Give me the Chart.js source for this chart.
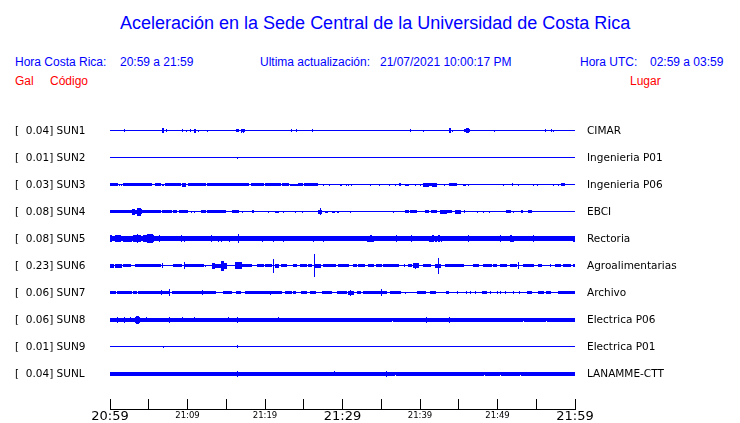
<!DOCTYPE html>
<html>
<head>
<meta charset="utf-8">
<script src="https://cdn.jsdelivr.net/npm/chart.js@4/dist/chart.umd.min.js"></script>
<style>
  html, body { margin: 0; padding: 0; background: #fff; }
  body { width: 740px; height: 423px; position: relative; overflow: hidden; font-family: "Liberation Sans", Arial, sans-serif; }
  .t { position: absolute; white-space: pre; line-height: 1; }
  .blue { color: #0000ff; }
  .red { color: #ff0000; }
  .s12 { font-size: 12px; }
  canvas { position: absolute; left: 0; }
</style>
</head>
<body>
<div class="t blue" style="left:120px; top:14px; font-size:18px;">Aceleración en la Sede Central de la Universidad de Costa Rica</div>
<div class="t blue s12" style="left:15px; top:56px;">Hora Costa Rica:</div>
<div class="t blue s12" style="left:120px; top:56px;">20:59 a 21:59</div>
<div class="t blue s12" style="left:260px; top:56px;">Ultima actualización:</div>
<div class="t blue s12" style="left:380px; top:56px;">21/07/2021 10:00:17 PM</div>
<div class="t blue s12" style="left:580px; top:56px;">Hora UTC:</div>
<div class="t blue s12" style="left:650px; top:56px;">02:59 a 03:59</div>
<div class="t red s12" style="left:15px; top:75px;">Gal</div>
<div class="t red s12" style="left:50px; top:75px;">Código</div>
<div class="t red s12" style="left:630px; top:75px;">Lugar</div>
<canvas id="traces" width="740" height="423" style="top:0"></canvas>
<canvas id="axis" width="740" height="43" style="top:380px"></canvas>
<script>
// ---------------- DATA ----------------
const codes  = ['SUN1','SUN2','SUN3','SUN4','SUN5','SUN6','SUN7','SUN8','SUN9','SUNL'];
const peaks  = [0.04, 0.01, 0.03, 0.08, 0.08, 0.23, 0.06, 0.06, 0.01, 0.04];
const places = ['CIMAR','Ingenieria P01','Ingenieria P06','EBCI','Rectoria','Agroalimentarias','Archivo','Electrica P06','Electrica P01','LANAMME-CTT'];
const timeLabels = ['20:59','','21:09','','21:19','','21:29','','21:39','','21:49','','21:59'];
const windowMinutes = 60;
const nBins = 465;
// background trace amplitude of each station (envelope, in trace units)
const baseAmp = [1, 1, 1, 1, 5, 1, 1, 4, 1, 4];
// envelope bursts: [fromSample, toSample, amplitude]
const env_SUN1 = [[14,14,3],[52,53,5],[56,56,3],[72,72,3],[76,76,2],[80,80,3],[84,85,4],[88,88,2],[97,97,2],[126,128,3],[131,131,4],[132,132,3],[133,133,4],[134,134,3],[181,181,3],[186,186,3],[202,202,3],[300,300,3],[313,313,2],[339,340,5],[342,342,2],[354,355,3],[356,358,5],[359,359,3],[384,384,2],[435,435,3],[441,441,3],[443,443,2]];
const env_SUN2 = [[127,127,2]];
const env_SUN3 = [[0,7,3],[9,9,2],[11,11,2],[13,41,3],[45,50,3],[52,53,2],[55,70,3],[72,75,4],[78,95,3],[97,138,3],[141,153,3],[155,170,3],[172,178,3],[180,187,2],[188,192,3],[194,207,3],[213,213,2],[219,219,2],[230,231,2],[236,236,2],[238,238,2],[241,241,2],[260,260,2],[269,269,2],[279,279,2],[285,285,2],[289,290,3],[295,298,2],[305,305,2],[310,310,2],[313,318,4],[319,321,3],[322,326,4],[334,334,2],[339,346,3],[353,355,2],[358,358,2],[393,393,2],[402,402,3],[408,408,2],[423,423,2],[427,427,2],[443,443,2],[448,448,2],[451,454,3]];
const env_SUN4 = [[0,21,3],[22,24,6],[25,26,4],[27,30,8],[31,31,5],[32,50,3],[52,61,3],[63,66,3],[69,77,3],[81,81,2],[84,84,2],[91,95,3],[97,115,3],[122,128,3],[132,132,2],[142,143,3],[158,158,2],[165,168,2],[173,173,2],[185,185,2],[192,192,2],[208,209,4],[210,210,7],[211,211,4],[215,217,2],[222,224,2],[227,228,2],[240,240,2],[283,283,2],[295,298,3],[300,306,3],[315,318,3],[321,326,3],[330,336,4],[337,341,3],[345,350,4],[354,354,3],[367,367,2],[373,373,2],[379,379,2],[396,400,3],[403,403,2],[411,412,3],[418,421,3]];
const env_SUN5 = [[0,1,7],[5,10,7],[13,21,6],[23,26,7],[27,27,9],[28,30,7],[33,36,7],[37,42,9],[43,43,7],[49,49,7],[71,71,7],[74,74,6],[101,101,7],[108,108,6],[111,111,6],[119,119,6],[128,128,9],[152,152,6],[163,163,6],[173,173,6],[203,203,6],[213,213,6],[257,259,6],[260,261,7],[262,263,6],[286,286,7],[301,301,7],[319,321,6],[322,323,7],[325,326,6],[328,329,7],[331,331,6],[358,358,7],[390,390,7],[400,401,7],[402,403,6],[423,423,7],[463,464,6]];
const env_SUN6 = [[0,3,4],[5,11,4],[13,20,3],[25,50,3],[52,52,5],[63,71,3],[74,74,7],[75,93,3],[95,95,2],[102,104,6],[105,110,4],[111,113,10],[114,116,6],[125,131,7],[132,141,3],[147,153,3],[155,161,3],[163,163,14],[165,168,4],[171,176,3],[183,186,3],[190,196,3],[198,201,3],[204,204,23],[205,210,4],[213,225,3],[228,238,3],[243,246,3],[248,254,3],[258,263,3],[266,271,3],[273,288,3],[294,294,3],[298,301,3],[303,304,5],[305,305,6],[306,308,5],[313,320,3],[325,327,4],[328,328,16],[329,330,4],[335,353,3],[363,368,3],[373,381,3],[383,386,3],[390,396,3],[400,406,3],[408,408,7],[413,423,3],[428,431,3],[440,440,3],[445,450,3],[453,460,3],[463,464,3]];
const env_SUN7 = [[0,5,3],[7,21,3],[23,26,3],[28,50,3],[51,51,5],[52,58,3],[59,59,7],[62,91,3],[92,92,5],[93,105,3],[113,121,3],[126,130,3],[135,159,3],[160,160,4],[161,171,3],[175,181,3],[183,185,3],[191,196,3],[200,205,3],[212,221,3],[227,236,3],[238,239,4],[240,240,6],[241,243,4],[247,250,3],[253,270,3],[271,271,7],[272,276,3],[280,290,3],[295,295,2],[307,315,3],[320,325,3],[336,338,3],[347,347,3],[356,356,3],[360,360,3],[365,365,3],[372,376,3],[380,380,3],[387,387,3],[390,390,3],[395,395,3],[403,403,3],[409,409,3],[417,421,3],[428,433,3],[436,440,3],[448,464,3]];
const env_SUN8 = [[7,7,6],[14,14,6],[20,20,5],[25,25,6],[26,28,8],[29,29,6],[36,36,5],[59,59,6],[72,72,5],[84,84,5],[118,118,5],[127,127,6],[168,168,5],[282,282,3],[316,316,6],[339,339,6],[413,413,3],[436,436,3]];
const env_SUN9 = [[53,53,2],[127,127,3]];
const env_SUNL = [[127,127,6],[224,224,5],[276,276,6],[285,285,3],[374,374,3],[390,390,3],[410,410,3]];
const envelopes = [env_SUN1, env_SUN2, env_SUN3, env_SUN4, env_SUN5, env_SUN6, env_SUN7, env_SUN8, env_SUN9, env_SUNL];

// ---------------- BUILD ----------------
const ROW = 27;
const minPerBin = windowMinutes / nBins;
function expand(base, segs) {
  const a = new Array(nBins).fill(base);
  segs.forEach(([f, t, v]) => { for (let i = f; i <= t; i++) a[i] = v; });
  return a;
}
const datasets = codes.map((c, s) => {
  const B = s * ROW;
  const amp = expand(baseAmp[s], envelopes[s]);
  return {
    label: c,
    data: amp.map((t, b) => ({ x: (b + 0.5) * minPerBin, y: [B - Math.floor((t - 1) / 2), B + Math.ceil((t - 1) / 2) + 1] })),
    backgroundColor: '#0000ff',
    borderWidth: 0,
    borderSkipped: false,
    inflateAmount: 0,
    grouped: false,
    barPercentage: 1,
    categoryPercentage: 1,
    clip: false
  };
});
const rowTicks = codes.map((c, s) => ({ value: s * ROW + 1.3 }));
const labelFont = { family: 'DejaVu Sans', size: 10.5 };

new Chart(document.getElementById('traces'), {
  type: 'bar',
  data: { datasets },
  options: {
    responsive: false, animation: false, devicePixelRatio: 1,
    layout: { padding: { left: 15, right: 0, top: 120, bottom: 40 } },
    plugins: { legend: { display: false }, tooltip: { enabled: false } },
    scales: {
      x: { type: 'linear', min: 0, max: windowMinutes, display: false, offset: false },
      y: {
        position: 'left', min: -10, max: 253, reverse: true,
        grid: { display: false, drawTicks: false, tickLength: 0 }, border: { display: false },
        afterBuildTicks: sc => { sc.ticks = rowTicks.map(t => ({ ...t })); },
        afterFit: sc => { sc.width = 95; },
        ticks: { autoSkip: false, crossAlign: 'far', padding: 0, color: '#000', font: labelFont,
          callback: (v, i) => '[  ' + peaks[i].toFixed(2) + '] ' + codes[i] }
      },
      y2: {
        position: 'right', min: -10, max: 253, reverse: true,
        grid: { display: false, drawTicks: false, tickLength: 0 }, border: { display: false },
        afterBuildTicks: sc => { sc.ticks = rowTicks.map(t => ({ ...t })); },
        afterFit: sc => { sc.width = 165; },
        ticks: { autoSkip: false, padding: 12, color: '#000', font: labelFont,
          callback: (v, i) => places[i] }
      }
    }
  }
});

new Chart(document.getElementById('axis'), {
  type: 'scatter',
  data: { datasets: [] },
  options: {
    responsive: false, animation: false, devicePixelRatio: 1,
    layout: { padding: { left: 110, right: 165, top: 19, bottom: 0 } },
    plugins: { legend: { display: false }, tooltip: { enabled: false } },
    scales: {
      x: {
        type: 'linear', min: 0, max: windowMinutes, position: 'bottom',
        afterBuildTicks: sc => { sc.ticks = timeLabels.map((l, i) => ({ value: i * 5 })); },
        afterFit: sc => { sc.height = 14; },
        grid: { drawOnChartArea: true, drawTicks: false, tickLength: 0, color: '#000', lineWidth: 1 },
        border: { display: true, color: '#000', width: 1 },
        ticks: {
          autoSkip: false, maxRotation: 0, padding: 0, color: '#000',
          font: ctx => (ctx.index % 6 === 0)
            ? { family: 'DejaVu Sans', size: 13, lineHeight: '15px' }
            : { family: 'DejaVu Sans', size: 8.5, lineHeight: '14px' },
          callback: (v, i) => timeLabels[i]
        }
      },
      y: { display: false, min: 0, max: 1 }
    }
  }
});
</script>
</body>
</html>
